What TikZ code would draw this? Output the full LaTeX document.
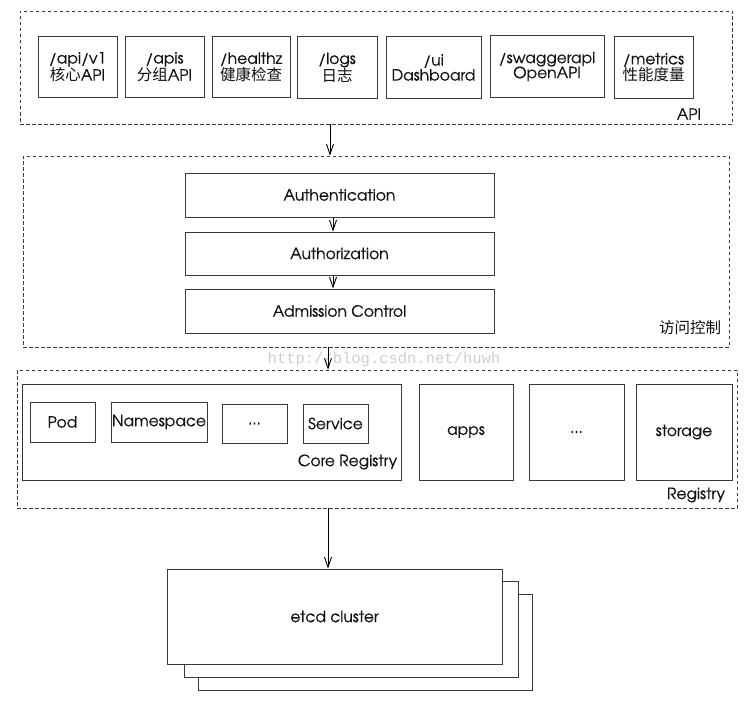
\documentclass[tikz,border=0pt]{standalone}
\usepackage{fontspec}
\setmainfont{TeX Gyre Adventor}[FakeBold=0.6]
\newfontfamily\cjk{Noto Sans CJK SC}
\newfontfamily\wmfont{Liberation Mono}
\usetikzlibrary{arrows.meta}
\definecolor{linec}{HTML}{3A3A3A}
\definecolor{textc}{HTML}{111111}
\definecolor{wmc}{HTML}{CFCFCF}
\begin{document}
\begin{tikzpicture}[x=1pt,y=-1pt,
 box/.style={draw=linec, line width=1pt, fill=white, inner sep=0pt, text=textc, align=center, font=\fontsize{15.5}{15}\selectfont},
 grp/.style={draw=linec, line width=0.9pt, dash pattern=on 3.5pt off 2.5pt, inner sep=0pt},
 lbl/.style={text=textc, inner sep=0pt, font=\fontsize{15.5}{15.5}\selectfont},
 arr/.style={draw=black, line width=0.9pt, -{Straight Barb[length=10pt,width=7pt]}},
]
\useasboundingbox (0,0) rectangle (747,717);
% ---------- API group
\node[grp, minimum width=712pt, minimum height=113pt] (api) at (376,67.5) {};
\node[lbl] (apilbl) at (689,114) {API};
\node[box, minimum width=79pt, minimum height=60pt] (v1) at (77.5,67) {/api/v1\\{\cjk 核心}API};
\node[box, minimum width=79pt, minimum height=60pt] (apis) at (164.5,67) {/apis\\{\cjk 分组}API};
\node[box, minimum width=78pt, minimum height=60pt] (healthz) at (251,67) {/healthz\\{\cjk 健康检查}};
\node[box, minimum width=80pt, minimum height=61pt] (logs) at (337,67.5) {/logs\\{\cjk 日志}};
\node[box, minimum width=95pt, minimum height=61pt] (ui) at (433.5,67.5) {/ui\\Dashboard};
\node[box, minimum width=114pt, minimum height=61pt] (swagger) at (547,66.5) {/swaggerapi\\OpenAPI};
\node[box, minimum width=79pt, minimum height=61pt] (metrics) at (653.5,67.5) {/metrics\\{\cjk 性能度量}};
% ---------- access control group
\node[grp, minimum width=706pt, minimum height=191pt] (acc) at (376,251.5) {};
\node[lbl] (acclbl) at (690,328) {\cjk 访问控制};
\node[box, minimum width=309pt, minimum height=44pt] (authn) at (339.5,195) {Authentication};
\node[box, minimum width=309pt, minimum height=43pt] (authz) at (339.5,253.5) {Authorization};
\node[box, minimum width=309pt, minimum height=44pt] (adm) at (339.5,311) {Admission Control};
% ---------- watermark
\node[text=wmc, inner sep=0pt, font=\wmfont\fontsize{15.5}{15.5}\selectfont] (wm) at (384,359) {http://blog.csdn.net/huwh};
% ---------- registry group
\node[grp, minimum width=720pt, minimum height=138pt] (reg) at (377,439) {};
\node[lbl] (reglbl) at (696,495) {Registry};
\node[box, minimum width=379pt, minimum height=96pt] (core) at (211.5,432) {};
\node[lbl] (corelbl) at (347.5,462) {Core Registry};
\node[box, minimum width=65pt, minimum height=40pt] (pod) at (62.5,422) {Pod};
\node[box, minimum width=96pt, minimum height=40pt] (ns) at (159,422) {Namespace};
\node[box, minimum width=65pt, minimum height=39pt] (cdots) at (254.5,423.5) {...};
\node[box, minimum width=65pt, minimum height=39pt] (svc) at (335.5,423.5) {Service};
\node[box, minimum width=94pt, minimum height=96pt] (apps) at (466,432) {apps};
\node[box, minimum width=95pt, minimum height=96pt] (rdots) at (576.5,432) {...};
\node[box, minimum width=96pt, minimum height=96pt] (storage) at (684,432) {storage};
% ---------- etcd
\node[box, minimum width=334pt, minimum height=96pt] (etcd3) at (365,642) {};
\node[box, minimum width=334pt, minimum height=96pt] (etcd2) at (351,629) {};
\node[box, minimum width=335pt, minimum height=95pt] (etcd) at (334.5,616.5) {etcd cluster};
% ---------- connectors
\coordinate (ax1) at (330,0);
\coordinate (ax2) at (333,0);
\coordinate (ax3) at (328,0);
\draw[arr] (ax1 |- api.south) -- (ax1 |- acc.north);
\draw[arr] (ax2 |- authn.south) -- (ax2 |- authz.north);
\draw[arr] (ax2 |- authz.south) -- (ax2 |- adm.north);
\draw[arr] (ax3 |- acc.south) -- (ax3 |- reg.north);
\draw[arr] (ax3 |- reg.south) -- (ax3 |- etcd.north);
\end{tikzpicture}
\end{document}
